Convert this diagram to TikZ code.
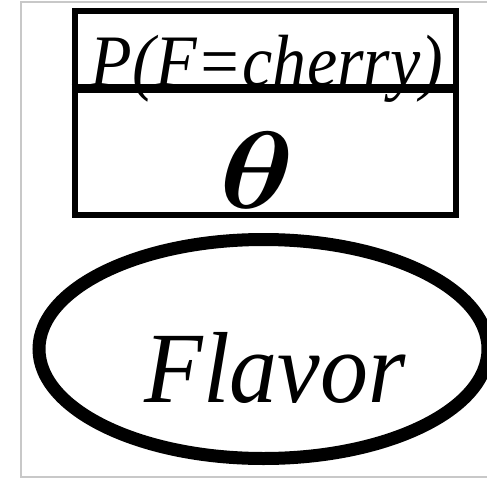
\RequirePackage{fix-cm}
\documentclass[tikz,border=0pt]{standalone}
\usepackage{fontspec}
\setmainfont{Liberation Serif}
\usepackage{tikz}
\usetikzlibrary{shapes,positioning,calc}
\definecolor{framegray}{RGB}{200,200,200}

\begin{document}
\begin{tikzpicture}[
    x=1pt, y=-1pt,
    parambox/.style={draw, line width=6pt, minimum width=381.5pt,
                minimum height=203.5pt, inner sep=0pt},
    varnode/.style={draw, ellipse, line width=13pt, minimum width=449pt,
                minimum height=219pt, inner sep=0pt},
    lbl/.style={inner sep=0pt, anchor=base}
]
    \useasboundingbox (0,0) rectangle (487,479);
    \draw[framegray, line width=2pt] (487,2) -- (21,2) -- (21,477) -- (487,477);

    \node[parambox] (param) at (265.25,112.75) {};
    \node[lbl, font=\itshape\fontsize{74}{80}\selectfont] (prob) at (267,86)
        {\scalebox{0.92}[1]{P(F=cherry)}};
    \node[lbl, font=\fontsize{110}{120}\selectfont] (theta) at (257,208)
        {\scalebox{1.15}[1]{\boldmath$\theta$}};
    \draw[line width=9pt] ($(param.north west)+(0,80)$) -- ($(param.north east)+(0,80)$);

    \node[varnode] (flavor) at (263.5,349) {};
    \node[lbl, font=\itshape\fontsize{101}{110}\selectfont] (flav) at (275,402)
        {\scalebox{0.95}[1]{Flavor}};
\end{tikzpicture}
\end{document}
